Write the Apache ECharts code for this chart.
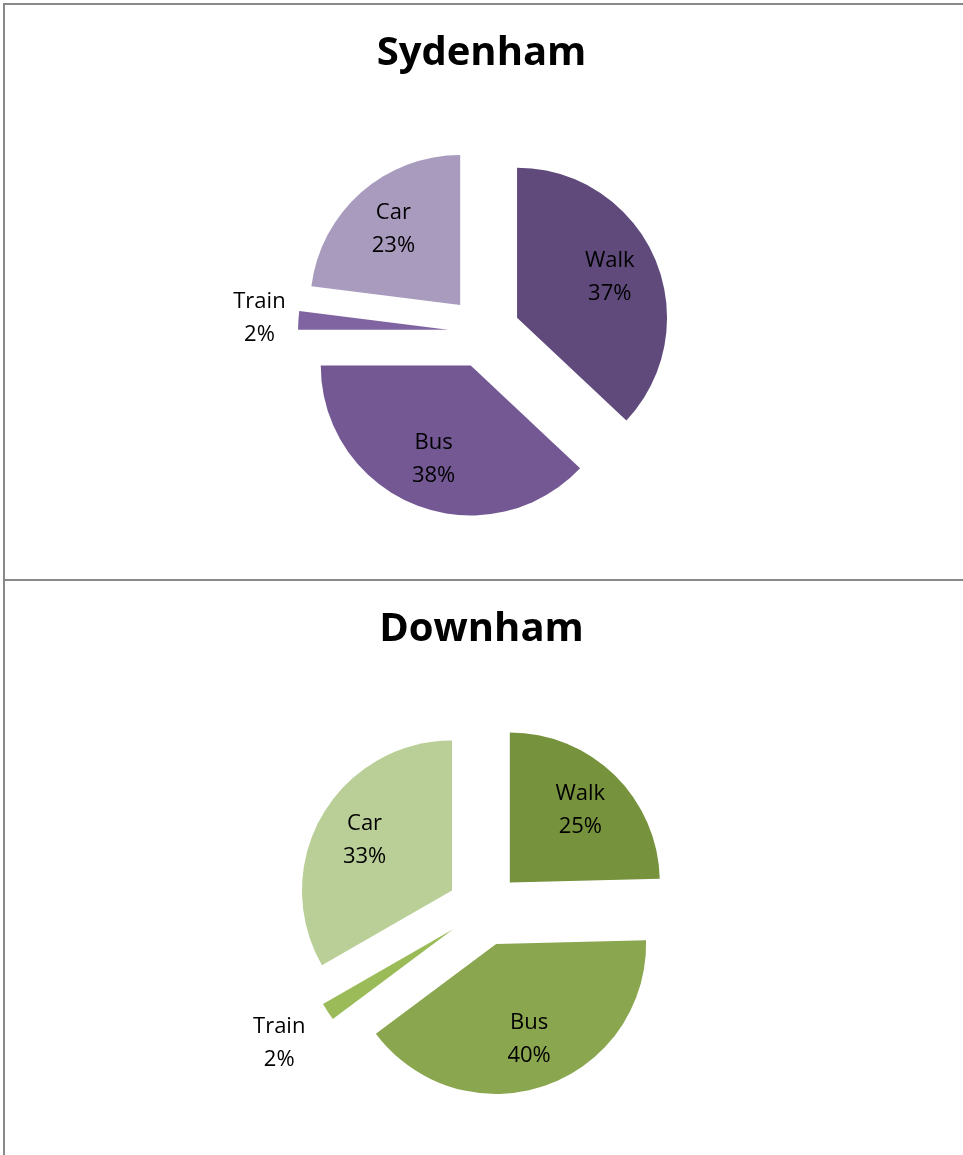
<!DOCTYPE html>
<html>
<head>
<meta charset="utf-8">
<script src="https://cdn.jsdelivr.net/npm/echarts@6/dist/echarts.min.js"></script>
<style>
  html, body { margin: 0; padding: 0; background: #fff; }
  .panel { position: absolute; left: 3px; width: 980px; border: 2px solid #898989; box-sizing: border-box; }
  #chart { position: absolute; left: 0; top: 0; width: 963px; height: 1155px; }
</style>
</head>
<body>
<div class="panel" style="top:3px;height:578px;"></div>
<div class="panel" style="top:579px;height:600px;"></div>
<div id="chart"></div>
<script>
// modes of travel, clockwise from 12 o'clock
var categories = ['Walk', 'Bus', 'Train', 'Car']
var sydenhamValues = [37, 38, 2, 23]
var downhamValues = [24.6, 40.2, 1.9, 33.3]
var titles = ['Sydenham', 'Downham']

var purples = ['#5f4a7b', '#735893', '#8064a2', '#a99bbe']
var greens = ['#77923c', '#8aa64e', '#9bbb59', '#bacf97']

var fontFamily = '"Open Sans", sans-serif'

function toData(values, colors, labelFor) {
  return categories.map(function (name, i) {
    var item = { name: name, value: values[i], selected: true }
    if (colors) item.itemStyle = { color: colors[i] }
    if (labelFor) item.label = { show: labelFor(name) }
    return item
  })
}

function labelText(p) {
  return p.name + '\n' + Math.round(p.percent) + '%'
}

// one real pie, plus two invisible pies that only carry the labels
function pieSeries(values, colors, center, offset, trainRadius) {
  var base = {
    type: 'pie',
    center: center,
    startAngle: 90,
    clockwise: true,
    selectedMode: 'multiple',
    selectedOffset: offset,
    silent: true,
    animation: false,
    labelLine: { show: false },
    emphasis: { disabled: true }
  }
  var labelStyle = {
    position: 'inside',
    formatter: labelText,
    color: '#000',
    fontFamily: fontFamily,
    fontSize: 22,
    lineHeight: 33
  }
  var pie = Object.assign({}, base, {
    radius: [0, 150],
    label: { show: false },
    data: toData(values, colors)
  })
  var inner = Object.assign({}, base, {
    radius: [0, 196],
    itemStyle: { color: 'rgba(0,0,0,0)' },
    label: labelStyle,
    data: toData(values, null, function (n) { return n !== 'Train' })
  })
  var outer = Object.assign({}, base, {
    radius: [0, trainRadius],
    itemStyle: { color: 'rgba(0,0,0,0)' },
    label: labelStyle,
    data: toData(values, null, function (n) { return n === 'Train' })
  })
  return [pie, inner, outer]
}

var titleStyle = { fontFamily: fontFamily, fontSize: 40, fontWeight: 'bold', color: '#000' }

var chart = echarts.init(document.getElementById('chart'))
chart.setOption({
  backgroundColor: 'transparent',
  title: [
    { text: titles[0], left: 'center', top: 29, textStyle: titleStyle },
    { text: titles[1], left: 'center', top: 605, textStyle: titleStyle }
  ],
  series: pieSeries(sydenhamValues, purples, [484, 332], 36, 372)
    .concat(pieSeries(downhamValues, greens, [484, 909], 37, 410))
})
</script>
</body>
</html>
